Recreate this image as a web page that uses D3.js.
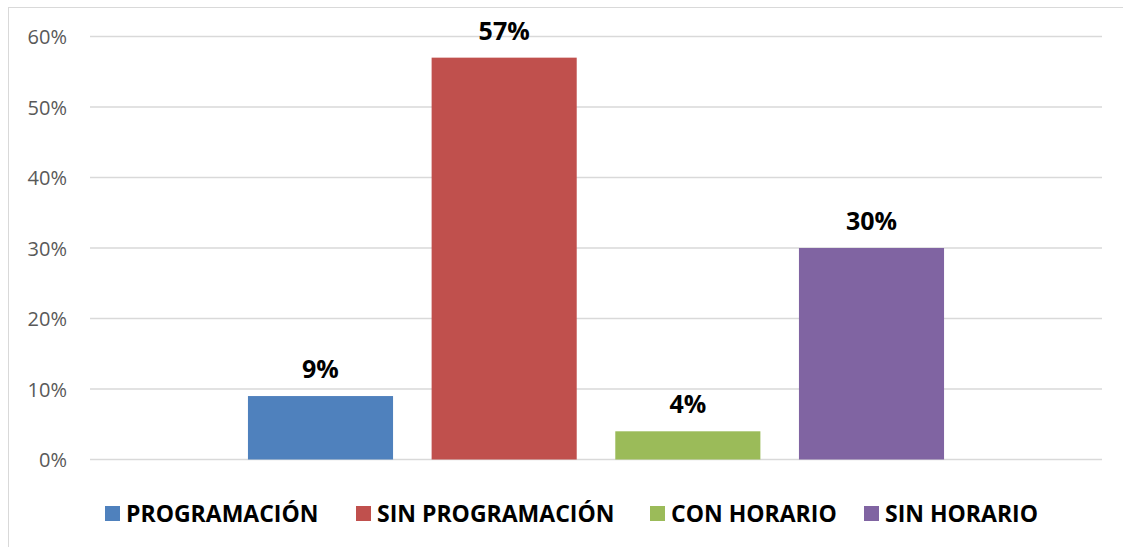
<!DOCTYPE html>
<html><head><meta charset="utf-8">
<script src="https://cdn.jsdelivr.net/npm/d3@7"></script>
<style>body{margin:0;background:#fff;}svg{display:block;}</style>
</head><body>
<script>
const series = ["PROGRAMACIÓN", "SIN PROGRAMACIÓN", "CON HORARIO", "SIN HORARIO"];
const values = [0.09, 0.57, 0.04, 0.30];
const colors = ["#4f81bd", "#c0504d", "#9bbb59", "#8064a2"];
const yTicks = [0, 0.1, 0.2, 0.3, 0.4, 0.5, 0.6];

const W = 1123, H = 547;
const svg = d3.select("body").append("svg").attr("width", W).attr("height", H);
svg.append("rect").attr("x", 8.5).attr("y", 7.5).attr("width", 1140).attr("height", 580)
  .attr("fill", "#fff").attr("stroke", "#d9d9d9").attr("stroke-width", 1);

const x = d3.scaleBand().domain(series).range([90, 1102]).paddingInner(0.21).paddingOuter(0.86);
const y = d3.scaleLinear().domain([0, 0.6]).range([459.5, 36.5]);

// gridlines
svg.append("g").selectAll("line").data(yTicks).join("line")
  .attr("x1", 90).attr("x2", 1102)
  .attr("y1", d => y(d)).attr("y2", d => y(d))
  .attr("stroke", "#d9d9d9").attr("stroke-width", 1.5);

// y axis labels
const yAxis = d3.axisLeft(y).tickValues(yTicks).tickFormat(d3.format(".0%")).tickSize(0).tickPadding(0);
const ga = svg.append("g").attr("transform", "translate(67,0)").call(yAxis);
ga.select(".domain").remove();
ga.selectAll("text").attr("font-family", "'Open Sans', sans-serif").attr("font-size", 20)
  .attr("fill", "#595959").attr("dy", "0.36em");

// bars
svg.append("g").selectAll("rect").data(series).join("rect")
  .attr("x", d => x(d)).attr("width", x.bandwidth())
  .attr("y", (d, i) => y(values[i])).attr("height", (d, i) => y(0) - y(values[i]))
  .attr("fill", (d, i) => colors[i]);

// data labels
svg.append("g").selectAll("text").data(series).join("text")
  .attr("x", d => x(d) + x.bandwidth() / 2)
  .attr("y", (d, i) => y(values[i]) - 18)
  .attr("text-anchor", "middle")
  .attr("font-family", "'Open Sans', sans-serif").attr("font-weight", "bold").attr("font-size", 25)
  .attr("fill", "#000")
  .text((d, i) => d3.format(".0%")(values[i]));

// legend
const legX = [105, 356, 650, 864];
const lg = svg.append("g").selectAll("g").data(series).join("g")
  .attr("transform", (d, i) => `translate(${legX[i]},506)`);
lg.append("rect").attr("width", 15).attr("height", 15).attr("fill", (d, i) => colors[i]);
lg.append("text").attr("x", 21).attr("y", 15.5)
  .attr("font-family", "'Open Sans', sans-serif").attr("font-weight", "bold").attr("font-size", 23)
  .attr("fill", "#000").text(d => d);
</script>
</body></html>
